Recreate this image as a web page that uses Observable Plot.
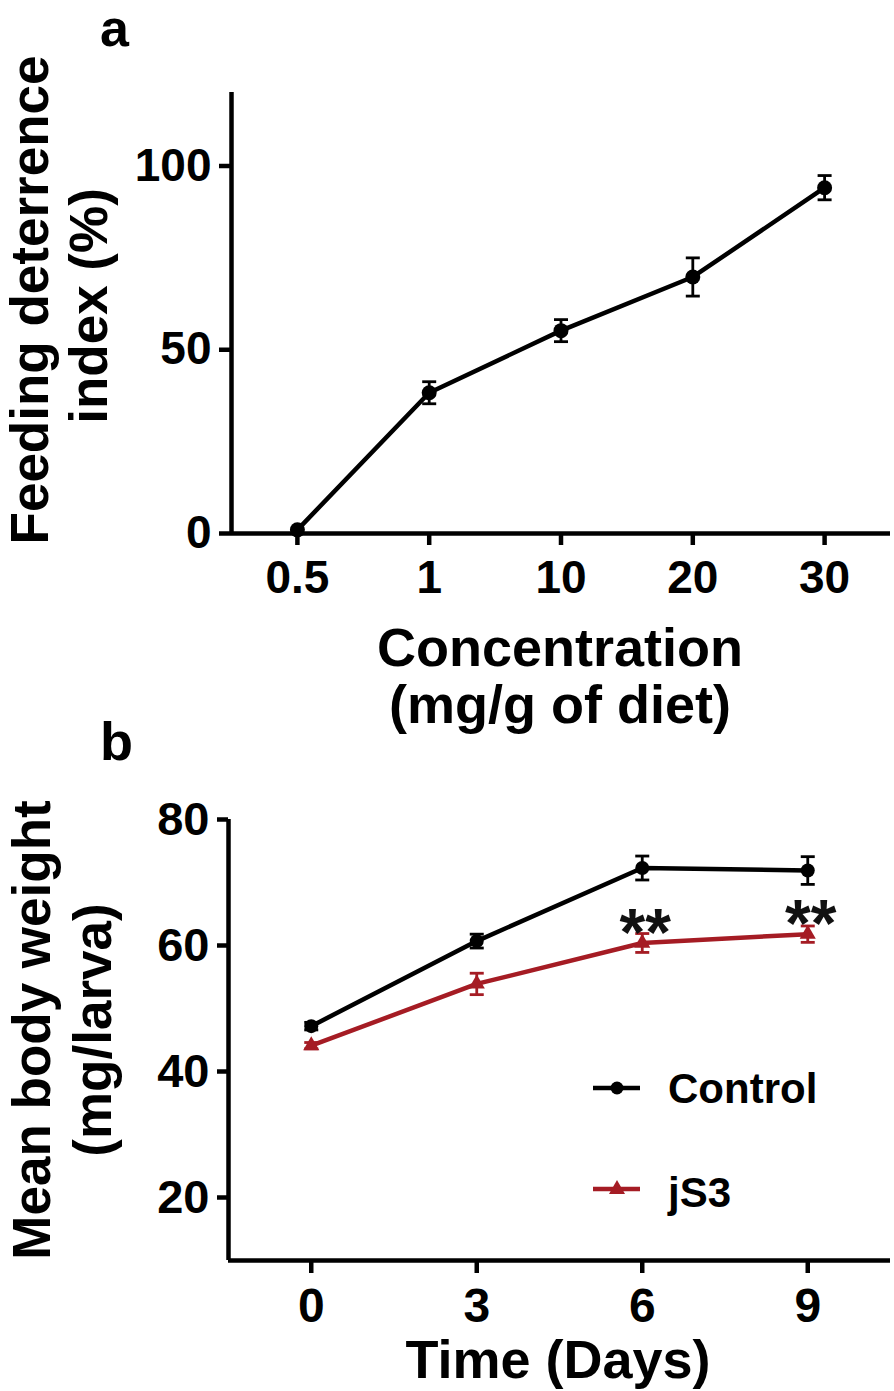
<!DOCTYPE html>
<html>
<head>
<meta charset="utf-8">
<script src="https://cdn.jsdelivr.net/npm/d3@7"></script>
<script src="https://cdn.jsdelivr.net/npm/@observablehq/plot@0.6"></script>
<style>
  body { margin: 0; background: #fff; }
  #wrap { position: relative; width: 894px; height: 1391px; overflow: hidden; background: #fff;
          font-family: "Liberation Sans", Arial, sans-serif; }
  #wrap > svg { position: absolute; left: 0; margin: 0; }
  #panelA { top: 0; }
  #panelB { top: 740px; }
  #overlay { position: absolute; left: 0; top: 0; pointer-events: none; }
  #overlay text { font-family: "Liberation Sans", Arial, sans-serif; font-weight: bold; fill: #000; }
</style>
</head>
<body>
<div id="wrap">
  <svg id="overlay" width="894" height="1391" viewBox="0 0 894 1391">
    <text x="100" y="46" font-size="52">a</text>
    <text x="100" y="760" font-size="54">b</text>
    <text transform="translate(48,300) rotate(-90)" text-anchor="middle" font-size="53">Feeding deterrence</text>
    <text transform="translate(107,306) rotate(-90)" text-anchor="middle" font-size="53">index (%)</text>
    <text x="560" y="666" text-anchor="middle" font-size="54">Concentration</text>
    <text x="560" y="723" text-anchor="middle" font-size="54">(mg/g of diet)</text>
    <text transform="translate(50,1030) rotate(-90)" text-anchor="middle" font-size="53">Mean body weight</text>
    <text transform="translate(111,1030) rotate(-90)" text-anchor="middle" font-size="53">(mg/larva)</text>
    <text x="558" y="1378" text-anchor="middle" font-size="54">Time (Days)</text>
    <g id="legend">
      <line x1="593" x2="640" y1="1088" y2="1088" stroke="#000" stroke-width="4.5"/>
      <circle cx="617" cy="1088" r="6.5" fill="#000"/>
      <text x="668" y="1103" font-size="42">Control</text>
      <line x1="593" x2="640" y1="1189" y2="1189" stroke="#a51c24" stroke-width="4.5"/>
      <path d="M617,1180 L625,1194 L609,1194 Z" fill="#a51c24"/>
      <text x="668" y="1207" font-size="42">jS3</text>
    </g>
  </svg>
</div>
<script>
// ---------- Panel a data ----------
const concLabels = ["0.5", "1", "10", "20", "30"];
const deterrence = [1.0, 38.3, 55.2, 69.8, 94.1];
const deterrenceErr = [0, 3.0, 3.0, 5.2, 3.3];
const yTicksA = [0, 50, 100];

// ---------- Panel b data ----------
const days = [0, 3, 6, 9];
const controlWeight = [47.2, 60.7, 72.3, 71.9];
const controlErr = [0.6, 1.1, 1.9, 2.2];
const js3Weight = [44.1, 53.9, 60.4, 61.8];
const js3Err = [0.5, 1.7, 1.5, 1.3];
const js3Signif = ["", "", "**", "**"];
const yTicksB = [20, 40, 60, 80];

const RED = "#a51c24";
const FONT = "Liberation Sans, Arial, sans-serif";
const LW = 4.5;

const capSymbol = {
  draw(ctx, size) {
    const r = Math.sqrt(size / Math.PI);
    ctx.moveTo(-r, 0);
    ctx.lineTo(r, 0);
  }
};

const rowsA = concLabels.map((c, i) => ({i, label: c, v: deterrence[i], e: deterrenceErr[i]}));
const xDomainA = [-0.5, concLabels.length - 0.5];
const yDomainA = [0, 120];

const panelA = Plot.plot({
  width: 894,
  height: 740,
  marginTop: 92,
  marginBottom: 207,
  marginLeft: 231,
  marginRight: 4,
  style: {fontFamily: FONT, fontWeight: "bold", background: "transparent", overflow: "visible"},
  x: {type: "linear", domain: xDomainA},
  y: {domain: yDomainA},
  marks: [
    Plot.ruleX([xDomainA[0]], {y1: yDomainA[0], y2: yDomainA[1], stroke: "#000", strokeWidth: LW}),
    Plot.ruleY([yDomainA[0]], {x1: xDomainA[0], x2: xDomainA[1], stroke: "#000", strokeWidth: LW}),
    Plot.axisY({ticks: yTicksA, tickSize: 12, tickPadding: 8, strokeWidth: LW, fontSize: 46, fontWeight: "bold", label: null}),
    Plot.axisX({ticks: rowsA.map(d => d.i), tickFormat: i => concLabels[i], tickSize: 12, tickPadding: 15, strokeWidth: LW, fontSize: 46, fontWeight: "bold", label: null}),
    Plot.ruleX(rowsA.filter(d => d.e > 0), {x: "i", y1: d => d.v - d.e, y2: d => d.v + d.e, stroke: "#000", strokeWidth: 2.8}),
    Plot.dot(rowsA.filter(d => d.e > 0), {x: "i", y: d => d.v - d.e, symbol: capSymbol, r: 7, stroke: "#000", strokeWidth: 2.8, fill: "none"}),
    Plot.dot(rowsA.filter(d => d.e > 0), {x: "i", y: d => d.v + d.e, symbol: capSymbol, r: 7, stroke: "#000", strokeWidth: 2.8, fill: "none"}),
    Plot.line(rowsA, {x: "i", y: "v", stroke: "#000", strokeWidth: LW}),
    Plot.dot(rowsA, {x: "i", y: "v", r: 7.5, fill: "#000", stroke: "none"})
  ]
});
panelA.id = "panelA";

const ctrlRows = days.map((d, k) => ({day: d, v: controlWeight[k], e: controlErr[k]}));
const js3Rows = days.map((d, k) => ({day: d, v: js3Weight[k], e: js3Err[k], sig: js3Signif[k]}));
const xDomainB = [-1.5, 10.5];
const yDomainB = [10, 80];

function errMarks(rows, color) {
  return [
    Plot.ruleX(rows, {x: "day", y1: d => d.v - d.e, y2: d => d.v + d.e, stroke: color, strokeWidth: 2.8}),
    Plot.dot(rows, {x: "day", y: d => d.v - d.e, symbol: capSymbol, r: 7, stroke: color, strokeWidth: 2.8, fill: "none"}),
    Plot.dot(rows, {x: "day", y: d => d.v + d.e, symbol: capSymbol, r: 7, stroke: color, strokeWidth: 2.8, fill: "none"})
  ];
}

const panelB = Plot.plot({
  width: 894,
  height: 651,
  marginTop: 79,
  marginBottom: 131,
  marginLeft: 228,
  marginRight: 4,
  style: {fontFamily: FONT, fontWeight: "bold", background: "transparent", overflow: "visible"},
  x: {domain: xDomainB},
  y: {domain: yDomainB},
  marks: [
    Plot.ruleX([xDomainB[0]], {y1: yDomainB[0], y2: yDomainB[1], stroke: "#000", strokeWidth: LW}),
    Plot.ruleY([yDomainB[0]], {x1: xDomainB[0], x2: xDomainB[1], stroke: "#000", strokeWidth: LW}),
    Plot.axisY({ticks: yTicksB, tickSize: 11, tickPadding: 8, strokeWidth: LW, fontSize: 47, fontWeight: "bold", label: null}),
    Plot.axisX({ticks: days, tickSize: 13, tickPadding: 14, strokeWidth: LW, fontSize: 48, fontWeight: "bold", label: null}),
    ...errMarks(ctrlRows, "#000"),
    Plot.line(ctrlRows, {x: "day", y: "v", stroke: "#000", strokeWidth: LW}),
    Plot.dot(ctrlRows, {x: "day", y: "v", r: 7, fill: "#000", stroke: "none"}),
    ...errMarks(js3Rows, RED),
    Plot.line(js3Rows, {x: "day", y: "v", stroke: RED, strokeWidth: LW}),
    Plot.dot(js3Rows, {x: "day", y: "v", r: 6, symbol: "triangle", fill: RED, stroke: "none"}),
    Plot.text(js3Rows.filter(d => d.sig), {x: "day", y: "v", text: "sig", dx: 3, dy: 12, lineAnchor: "bottom", fontSize: 66, fontWeight: "bold", fill: "#111"})
  ]
});
panelB.id = "panelB";

const wrap = document.getElementById("wrap");
wrap.insertBefore(panelB, wrap.firstChild);
wrap.insertBefore(panelA, wrap.firstChild);
</script>
</body>
</html>
